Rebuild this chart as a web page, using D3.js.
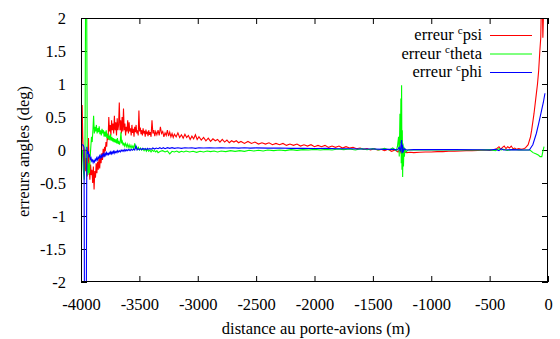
<!DOCTYPE html>
<html><head><meta charset="utf-8">
<script src="https://cdn.jsdelivr.net/npm/d3@7"></script>
<style>html,body{margin:0;padding:0;background:#fff;} svg{display:block;} text{font-family:"Liberation Serif","Times New Roman",serif;font-size:16.5px;fill:#000;}</style>
</head><body><svg id="c" width="560" height="339"></svg>
<script>
const xTicks = [-4000,-3500,-3000,-2500,-2000,-1500,-1000,-500,0];
const yTicks = [-2,-1.5,-1,-0.5,0,0.5,1,1.5,2];
const seriesNames = ["psi","theta","phi"];
const seriesColors = ["#ff0000","#00ff00","#0000ff"];

const psi = [[-3995,0.05],[-3990,0.68],[-3985,0.2],[-3978,-0.15],[-3972,-0.3],[-3966,0.02],[-3960,-0.32],[-3954,-0.12],[-3948,-0.4],[-3942,-0.22],[-3936,0.18],[-3930,-0.28],[-3924,-0.45],[-3918,-0.22],[-3912,-0.38],[-3906,-0.3],[-3900,-0.5],[-3894,-0.25],[-3888,-0.6],[-3882,-0.32],[-3876,-0.42],[-3870,-0.2],[-3864,-0.35],[-3858,-0.18],[-3852,-0.3],[-3846,-0.12],[-3840,-0.28],[-3834,-0.1],[-3828,-0.2],[-3822,-0.05],[-3816,-0.15],[-3810,0.02],[-3804,-0.1],[-3798,0.05],[-3792,-0.02],[-3786,0.12],[-3780,0.05],[-3774,0.22],[-3768,0.15],[-3762,0.5],[-3756,0.28],[-3750,0.38],[-3744,0.22],[-3738,0.45],[-3732,0.3],[-3726,0.4],[-3720,0.25],[-3714,0.52],[-3708,0.3],[-3702,0.42],[-3696,0.22],[-3690,0.48],[-3684,0.3],[-3678,0.38],[-3672,0.72],[-3666,0.3],[-3660,0.45],[-3654,0.25],[-3648,0.5],[-3642,0.28],[-3636,0.63],[-3630,0.3],[-3624,0.4],[-3618,0.22],[-3612,0.35],[-3606,0.28],[-3600,0.45],[-3594,0.25],[-3588,0.42],[-3582,0.28],[-3576,0.33],[-3570,0.22],[-3564,0.38],[-3558,0.26],[-3552,0.32],[-3546,0.2],[-3540,0.35],[-3534,0.27],[-3528,0.38],[-3522,0.25],[-3516,0.3],[-3510,0.22],[-3504,0.6],[-3498,0.28],[-3492,0.34],[-3486,0.24],[-3480,0.3],[-3474,0.22],[-3468,0.33],[-3462,0.25],[-3456,0.29],[-3450,0.2],[-3444,0.31],[-3438,0.24],[-3432,0.28],[-3426,0.21],[-3420,0.3],[-3414,0.23],[-3408,0.27],[-3400,0.2],[-3392,0.45],[-3384,0.25],[-3376,0.3],[-3368,0.21],[-3360,0.28],[-3350,0.23],[-3340,0.3],[-3330,0.22],[-3320,0.35],[-3310,0.25],[-3300,0.28],[-3290,0.2],[-3280,0.26],[-3270,0.22],[-3260,0.3],[-3250,0.21],[-3240,0.27],[-3230,0.2],[-3220,0.25],[-3210,0.19],[-3200,0.24],[-3185,0.2],[-3170,0.26],[-3155,0.19],[-3140,0.23],[-3125,0.18],[-3110,0.24],[-3095,0.19],[-3080,0.22],[-3065,0.16],[-3050,0.21],[-3035,0.17],[-3020,0.23],[-3005,0.16],[-2990,0.2],[-2970,0.15],[-2950,0.19],[-2930,0.14],[-2910,0.18],[-2890,0.13],[-2870,0.17],[-2850,0.14],[-2830,0.16],[-2810,0.12],[-2790,0.16],[-2770,0.12],[-2750,0.15],[-2730,0.11],[-2710,0.14],[-2690,0.12],[-2670,0.14],[-2650,0.11],[-2630,0.13],[-2600,0.1],[-2570,0.13],[-2540,0.1],[-2510,0.12],[-2480,0.09],[-2450,0.11],[-2420,0.09],[-2390,0.11],[-2360,0.08],[-2330,0.1],[-2300,0.08],[-2270,0.1],[-2240,0.07],[-2210,0.09],[-2180,0.07],[-2150,0.09],[-2120,0.06],[-2090,0.08],[-2060,0.06],[-2030,0.08],[-2000,0.05],[-1970,0.07],[-1940,0.05],[-1910,0.07],[-1880,0.04],[-1850,0.06],[-1820,0.04],[-1790,0.06],[-1760,0.03],[-1730,0.05],[-1700,0.03],[-1670,0.04],[-1640,0.02],[-1610,0.03],[-1580,0.01],[-1550,0.02],[-1520,0.0],[-1490,0.02],[-1460,0.0],[-1430,0.01],[-1400,-0.01],[-1370,0.01],[-1340,-0.02],[-1310,0.0],[-1285,-0.03],[-1270,0.01],[-1258,-0.05],[-1250,0.02],[-1242,-0.05],[-1230,-0.03],[-1210,-0.04],[-1180,-0.035],[-1150,-0.04],[-1100,-0.035],[-1050,-0.03],[-1000,-0.03],[-950,-0.025],[-900,-0.025],[-850,-0.02],[-800,-0.02],[-750,-0.015],[-700,-0.01],[-650,-0.01],[-600,-0.005],[-550,0],[-500,-0.005],[-470,0.0],[-440,0.02],[-420,0.05],[-405,0.01],[-390,0.04],[-375,0.06],[-360,0.02],[-345,0.05],[-330,0.03],[-315,0.06],[-300,0.02],[-285,0.03],[-270,0.01],[-250,0.02],[-230,0.01],[-210,0.02],[-195,0.03],[-170,0.08],[-150,0.2],[-140,0.3],[-120,0.55],[-100,0.85],[-90,1.0],[-80,1.2],[-70,1.5],[-62,1.7],[-55,2.4],[-48,2.2],[-44,1.7],[-38,2.1],[-30,2.6]];

const theta = [[-3995,-0.05],[-3988,0.0],[-3980,-0.3],[-3972,-0.45],[-3966,-0.1],[-3960,2.6],[-3952,2.6],[-3946,-0.3],[-3940,-0.38],[-3934,-0.2],[-3928,-0.35],[-3922,-0.12],[-3916,0.05],[-3910,0.2],[-3904,0.12],[-3898,0.3],[-3892,0.52],[-3886,0.25],[-3880,0.35],[-3874,0.28],[-3868,0.38],[-3862,0.25],[-3856,0.33],[-3850,0.27],[-3844,0.36],[-3838,0.24],[-3832,0.3],[-3826,0.22],[-3820,0.32],[-3814,0.25],[-3808,0.3],[-3802,0.2],[-3796,0.28],[-3790,0.2],[-3784,0.3],[-3778,0.18],[-3772,0.25],[-3766,0.16],[-3760,0.22],[-3754,0.15],[-3748,0.24],[-3742,0.14],[-3736,0.2],[-3730,0.13],[-3724,0.18],[-3718,0.12],[-3712,0.17],[-3706,0.11],[-3700,0.16],[-3694,0.1],[-3688,0.18],[-3682,0.09],[-3676,0.14],[-3670,0.08],[-3664,0.12],[-3658,0.27],[-3652,0.1],[-3646,0.13],[-3640,0.07],[-3634,0.11],[-3628,0.06],[-3620,0.1],[-3612,0.05],[-3604,0.09],[-3596,0.04],[-3588,0.08],[-3580,0.03],[-3572,0.07],[-3564,0.03],[-3556,0.06],[-3548,0.02],[-3540,0.1],[-3532,0.03],[-3524,0.05],[-3516,0.01],[-3508,0.04],[-3500,0.0],[-3490,0.03],[-3480,0.0],[-3470,0.02],[-3460,-0.01],[-3450,0.02],[-3440,-0.02],[-3430,0.01],[-3420,-0.02],[-3410,0.0],[-3400,-0.03],[-3390,0.0],[-3380,-0.02],[-3370,-0.01],[-3360,-0.03],[-3350,-0.01],[-3340,-0.04],[-3320,-0.02],[-3300,-0.01],[-3280,-0.03],[-3260,-0.015],[-3240,-0.06],[-3220,-0.02],[-3200,-0.03],[-3180,-0.015],[-3160,-0.035],[-3140,-0.02],[-3120,-0.03],[-3100,-0.015],[-3070,-0.03],[-3040,-0.02],[-3010,-0.035],[-2980,-0.02],[-2950,-0.03],[-2920,-0.015],[-2890,-0.025],[-2860,-0.015],[-2830,-0.03],[-2800,-0.015],[-2760,-0.025],[-2720,-0.01],[-2680,-0.02],[-2640,-0.01],[-2600,-0.02],[-2560,-0.005],[-2520,-0.015],[-2480,-0.005],[-2440,-0.015],[-2400,0.0],[-2350,-0.01],[-2300,0.0],[-2250,-0.01],[-2200,0.005],[-2150,-0.005],[-2100,0.005],[-2050,0.0],[-2000,0.01],[-1950,0.0],[-1900,0.01],[-1850,0.0],[-1800,0.015],[-1750,0.005],[-1700,0.015],[-1650,0.0],[-1600,0.02],[-1550,0.005],[-1500,0.02],[-1450,0.0],[-1400,0.025],[-1360,0.0],[-1330,0.03],[-1300,-0.01],[-1290,0.05],[-1280,0.2],[-1274,-0.1],[-1268,0.55],[-1264,0.1],[-1260,0.78],[-1257,-0.2],[-1254,0.98],[-1251,-0.3],[-1248,0.3],[-1245,-0.41],[-1242,0.1],[-1238,-0.25],[-1234,0.05],[-1230,-0.1],[-1225,0.02],[-1215,-0.03],[-1200,0.0],[-1100,0.0],[-1000,0.0],[-900,0.0],[-800,0.0],[-700,0.0],[-600,0.0],[-500,0.005],[-450,-0.01],[-420,0.02],[-400,0.0],[-380,0.01],[-350,-0.005],[-300,0.01],[-250,0.0],[-200,0.0],[-155,0.0],[-128,-0.04],[-100,-0.06],[-80,-0.08],[-68,-0.1],[-53,-0.1],[-44,-0.02],[-34,0.05]];

const phi = [[-3995,0.09],[-3988,0.08],[-3980,0.07],[-3974,0.04],[-3970,-2.6],[-3955,-2.6],[-3950,0.05],[-3944,-0.06],[-3938,-0.02],[-3932,-0.1],[-3926,-0.08],[-3920,-0.14],[-3914,-0.12],[-3908,-0.17],[-3902,-0.15],[-3896,-0.19],[-3890,-0.16],[-3884,-0.18],[-3878,-0.14],[-3872,-0.16],[-3866,-0.12],[-3860,-0.15],[-3854,-0.11],[-3848,-0.13],[-3842,-0.09],[-3836,-0.12],[-3830,-0.08],[-3824,-0.11],[-3818,-0.07],[-3812,-0.1],[-3806,-0.06],[-3800,-0.09],[-3794,-0.05],[-3788,-0.08],[-3782,-0.04],[-3776,-0.07],[-3770,-0.05],[-3764,-0.07],[-3758,-0.04],[-3752,-0.06],[-3746,-0.03],[-3740,-0.06],[-3734,-0.03],[-3728,-0.05],[-3722,-0.02],[-3716,-0.05],[-3710,-0.02],[-3704,-0.04],[-3698,-0.02],[-3692,-0.04],[-3686,-0.01],[-3680,-0.03],[-3672,-0.01],[-3664,-0.03],[-3656,0.0],[-3648,-0.02],[-3640,0.0],[-3632,-0.02],[-3624,0.01],[-3616,-0.015],[-3608,0.005],[-3600,-0.01],[-3590,0.01],[-3580,-0.01],[-3570,0.01],[-3560,-0.005],[-3550,0.015],[-3540,0.0],[-3530,0.06],[-3520,0.0],[-3510,0.02],[-3500,0.005],[-3490,0.02],[-3480,0.005],[-3470,0.025],[-3460,0.01],[-3450,0.02],[-3440,0.005],[-3430,0.025],[-3420,0.01],[-3410,0.025],[-3400,0.01],[-3385,0.03],[-3370,0.015],[-3355,0.03],[-3340,0.02],[-3325,0.035],[-3310,0.02],[-3295,0.035],[-3280,0.02],[-3260,0.035],[-3240,0.025],[-3220,0.035],[-3200,0.025],[-3170,0.035],[-3140,0.025],[-3110,0.035],[-3080,0.03],[-3050,0.035],[-3020,0.025],[-2990,0.035],[-2950,0.03],[-2900,0.035],[-2850,0.03],[-2800,0.035],[-2750,0.03],[-2700,0.035],[-2650,0.028],[-2600,0.033],[-2550,0.028],[-2500,0.032],[-2400,0.028],[-2300,0.03],[-2200,0.025],[-2100,0.027],[-2000,0.022],[-1900,0.024],[-1800,0.018],[-1700,0.02],[-1600,0.015],[-1500,0.015],[-1400,0.01],[-1320,0.01],[-1290,0.0],[-1275,0.04],[-1265,-0.02],[-1258,0.1],[-1254,0.15],[-1250,-0.05],[-1246,0.08],[-1240,-0.02],[-1230,0.02],[-1210,0.0],[-1150,0.005],[-1000,0.005],[-800,0.005],[-600,0.003],[-500,0.0],[-450,0.01],[-420,-0.01],[-400,0.02],[-380,0.0],[-300,0.005],[-200,0.0],[-160,0.0],[-130,0.08],[-100,0.25],[-80,0.4],[-55,0.6],[-40,0.72],[-26,0.86]];

const seriesData = [psi, theta, phi];

const svg = d3.select("#c");
const L = 81, R = 548, T = 18, B = 282;
const x = d3.scaleLinear().domain([-4000, 0]).range([L, R]);
const y = d3.scaleLinear().domain([-2, 2]).range([B, T]);

svg.append("defs").append("clipPath").attr("id","clip")
  .append("rect").attr("x",L).attr("y",T).attr("width",R-L).attr("height",B-T);

const tickLen = 6;
const gx = svg.append("g").attr("transform",`translate(0,${B})`)
  .call(d3.axisBottom(x).tickValues(xTicks).tickSize(-tickLen).tickPadding(16));
const gxTop = svg.append("g").attr("transform",`translate(0,${T})`)
  .call(d3.axisTop(x).tickValues(xTicks).tickSize(-tickLen).tickFormat(""));
const gy = svg.append("g").attr("transform",`translate(${L},0)`)
  .call(d3.axisLeft(y).tickValues(yTicks).tickSize(-tickLen).tickPadding(15));
const gyR = svg.append("g").attr("transform",`translate(${R},0)`)
  .call(d3.axisRight(y).tickValues(yTicks).tickSize(-tickLen).tickFormat(""));
[gx,gxTop,gy,gyR].forEach(g => {
  g.attr("font-family",null).attr("font-size",null);
  g.select(".domain").remove();
  g.selectAll(".tick line").attr("stroke","#000").attr("stroke-width",1);
  g.selectAll("text").attr("fill","#000");
});
gx.selectAll("text").attr("dy","0.71em").text(d => String(d));
gy.selectAll("text").attr("dy","0.32em").text(d => String(d));

const line = d3.line().x(d => x(d[0])).y(d => y(d[1]));
const plot = svg.append("g").attr("clip-path","url(#clip)");
seriesData.forEach((s,i) => {
  plot.append("path").datum(s).attr("d",line)
    .attr("fill","none").attr("stroke",seriesColors[i]).attr("stroke-width",1.1);
});

svg.append("rect").attr("x",L+0.5).attr("y",T+0.5).attr("width",R-L-1).attr("height",B-T-1)
  .attr("fill","none").attr("stroke","#000").attr("stroke-width",1);

const lg = svg.append("g");
seriesNames.forEach((n,i) => {
  const ly = 35 + i*18.5;
  const t = lg.append("text").attr("x",482).attr("y",ly+5).attr("text-anchor","end");
  t.append("tspan").text("erreur ");
  t.append("tspan").attr("font-size","11px").attr("dy","-6").text("c");
  t.append("tspan").attr("dy","6").text(n);
  lg.append("line").attr("x1",490).attr("x2",532).attr("y1",ly+0.5).attr("y2",ly+0.5)
    .attr("stroke",seriesColors[i]).attr("stroke-width",1);
});

svg.append("text").attr("x",316).attr("y",334).attr("text-anchor","middle").text("distance au porte-avions (m)");
svg.append("text").attr("transform","translate(29,151.5) rotate(-90)").attr("text-anchor","middle").text("erreurs angles (deg)");
</script></body></html>
